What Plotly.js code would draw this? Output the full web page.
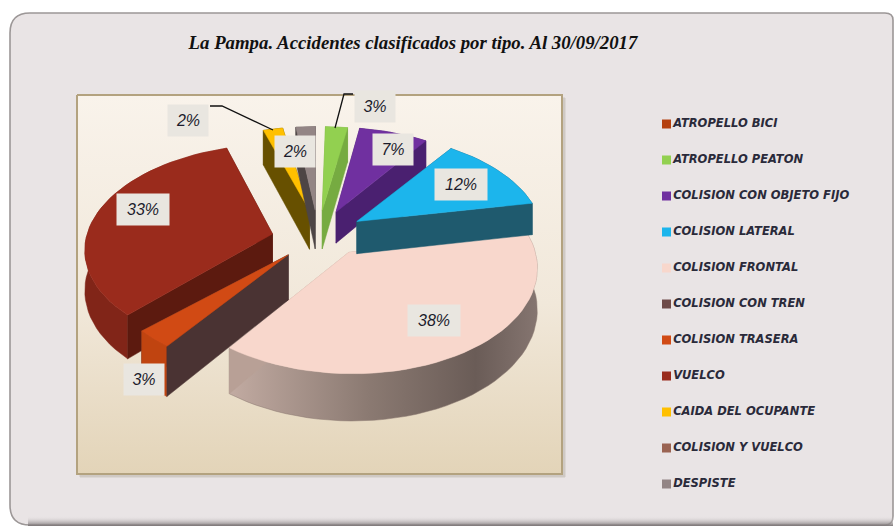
<!DOCTYPE html>
<html>
<head>
<meta charset="utf-8">
<script src="https://cdn.plot.ly/plotly-3.0.1.min.js"></script>
<style>html,body{margin:0;padding:0;background:#fff}#c{width:895px;height:528px}</style>
</head>
<body>
<div id="c"></div>
<script>
// ---- data ----
const chartTitle = 'La Pampa. Accidentes clasificados por tipo. Al 30/09/2017';
const categories = ['ATROPELLO BICI','ATROPELLO PEATON','COLISION CON OBJETO FIJO','COLISION LATERAL','COLISION FRONTAL','COLISION CON TREN','COLISION TRASERA','VUELCO','CAIDA DEL OCUPANTE','COLISION Y VUELCO','DESPISTE'];
const percents = [0,3,7,12,38,0,3,33,2,0,2];

// ---- styles ----
const topColors  = ['#B5400F','#92D050','#7030A0','#1CB5EC','#F8D7CC','#6E4A48','#D14A14','#9A2B1C','#FFC000','#9A6352','#938585'];
const wallColors = ['#5C2008','#76AB41','#4A2070','#1F5A6E','#B8A096','#4A3333','#4A3333','#5C1A0F','#675000','#5c3a30','#4D4545'];
const rimColors  = ['#8a300b','#76AB41','#4A2070','#1F5A6E','#8A7870','#4A3333','#C04410','#812518','#675000','#5c3a30','#6d6262'];
const drawOrder = [8,10,1,2,7,4,3,6];
const pull = 0.25, CX = 318, CY = 235, R = 187, S = 103, P = 0.13, DEPTH = 40;
// per-slice view adjustments: shift, rotation, angular span, radius, depth
const sliceView = {
  1:{span:0.75, radius:0.97},
  2:{rot:-1.5, radius:0.98, depth:0.8},
  3:{depth:0.82},
  4:{dx:5, dy:-5, radius:0.97},
  6:{radius:0.94, depth:1.1, dx:2},
  7:{dx:-1, dy:6, rot:-3.5},
  8:{rot:-3, radius:0.97},
  10:{radius:0.97}
};

function project(X, Y, dz, v) {
  const w = 1 + P * Y;
  return [CX + (v.dx || 0) + R * X / w, CY + (v.dy || 0) - S * Y / w + dz / w];
}
const total = percents.reduce((a, b) => a + b, 0);
const traces = [];

// panel bottom shadow
traces.push({x:[28,893,893,28,28], y:[516,516,526,526,516], mode:'lines', fill:'toself', line:{width:0}, hoverinfo:'skip',
  fillgradient:{type:'vertical', colorscale:[[0,'rgba(120,114,115,0.95)'],[1,'rgba(233,228,229,0)']]}});

// plot background
traces.push({x:[80,565,565,80,80], y:[98,98,477,477,98], mode:'lines', fill:'toself', fillcolor:'#CFC9C4', line:{color:'#CFC9C4', width:1}, hoverinfo:'skip'});
traces.push({x:[77,562,562,77,77], y:[95,95,474,474,95], mode:'lines', fill:'toself',
  line:{color:'#B3A27F', width:2}, hoverinfo:'skip',
  fillgradient:{type:'vertical', colorscale:[[0,'#E3D4B8'],[0.45,'#F1E8DA'],[1,'#F9F3EB']]}});

// slices
const starts = []; let acc = 0;
percents.forEach(v => { starts.push(acc); acc += v / total * 360; });
const rad = d => d * Math.PI / 180;
function poly(pts, color, extra) {
  const t = {x:pts.map(p => p[0]), y:pts.map(p => p[1]), mode:'lines', fill:'toself', hoverinfo:'skip',
    fillcolor:color, line:{color:color, width:0.5}};
  return Object.assign(t, extra || {});
}
drawOrder.forEach(i => {
  const v = sliceView[i] || {};
  const sweep = percents[i] / total * 360;
  const mid = starts[i] + sweep / 2;
  const half = sweep * (v.span || 1) / 2, rot = v.rot || 0;
  const a0 = mid - half + rot, a1 = mid + half + rot;
  const radius = v.radius || 1, depth = DEPTH * (v.depth || 1);
  const ox = pull * Math.sin(rad(mid)), oy = pull * Math.cos(rad(mid));
  const pt = (r, a, z) => project(ox + r * radius * Math.sin(rad(a)), oy + r * radius * Math.cos(rad(a)), z, v);
  const steps = Math.max(2, Math.ceil((a1 - a0) / 3));
  const arcT = [], arcB = [];
  for (let k = 0; k <= steps; k++) {
    const a = a0 + (a1 - a0) * k / steps;
    arcT.push(pt(1, a, 0)); arcB.push(pt(1, a, depth));
  }
  const apexT = pt(0, 0, 0), apexB = pt(0, 0, depth);
  const wallA = [apexT, arcT[0], arcB[0], apexB, apexT];
  const wallB = [apexT, arcT[steps], arcB[steps], apexB, apexT];
  const rim = arcT.concat(arcB.slice().reverse()); rim.push(arcT[0]);
  const my = p => p.reduce((s, q) => s + q[1], 0) / p.length;
  const walls = my(wallA) < my(wallB) ? [wallA, wallB] : [wallB, wallA];
  traces.push(poly(walls[0], wallColors[i]));
  const rimExtra = i === 4 ? {fillgradient:{type:'horizontal', colorscale:[[0,'#C2ABA2'],[0.45,'#8B7A72'],[0.8,'#6A5C57'],[1,'#857570']]}} : null;
  traces.push(poly(rim, rimColors[i], rimExtra));
  traces.push(poly(walls[1], wallColors[i]));
  traces.push(poly(arcT.concat([apexT, arcT[0]]), topColors[i]));
});

// leader lines
traces.push({x:[210,222,273], y:[106,106,130], mode:'lines', line:{color:'#111', width:1.3}, hoverinfo:'skip'});
traces.push({x:[335,344,353], y:[128,94,94], mode:'lines', line:{color:'#111', width:1.3}, hoverinfo:'skip'});

// legend
const legendY = categories.map((c, i) => 124 + i * 36);
traces.push({x:categories.map(() => 666.5), y:legendY, mode:'markers+text', text:categories, textposition:'middle right',
  cliponaxis:false, hoverinfo:'skip', marker:{symbol:'square', size:9, color:topColors},
  textfont:{family:'"DejaVu Sans", sans-serif', size:11.5, color:'#2a2a3a', style:'italic', weight:700}});

// data labels
const labelPos = {1:[375,106],2:[393,149],3:[461,184],4:[434,320],6:[144,379],7:[143,209],8:[188,120],10:[295,151]};
const annotations = Object.keys(labelPos).map(k => ({
  x:labelPos[k][0], y:labelPos[k][1], xref:'x', yref:'y', showarrow:false,
  text:percents[k] + '%', bgcolor:'#E9E6E0', width:k==7||k==3||k==4?50:38, height:29,
  font:{family:'"Liberation Sans", sans-serif', size:16, style:'italic', color:'#1c1c2c'}
}));

const outerPanel = 'M 30 13 L 885 13 Q 893 13 893 20 L 893 516 Q 893 525 885 525 L 30 525 Q 10 525 10 505 L 10 33 Q 10 13 30 13 Z';
const layout = {
  width:895, height:528, margin:{l:0,r:0,t:0,b:0}, showlegend:false,
  paper_bgcolor:'#ffffff', plot_bgcolor:'rgba(0,0,0,0)',
  title:{text:chartTitle, x:413/895, xanchor:'center', y:1-42/528, yanchor:'middle',
    font:{family:'"Liberation Serif", serif', size:18.8, style:'italic', weight:700, color:'#111'}},
  xaxis:{range:[0,895], visible:false, fixedrange:true},
  yaxis:{range:[528,0], visible:false, fixedrange:true},
  shapes:[{type:'path', path:outerPanel, layer:'below', fillcolor:'#E9E4E5', line:{color:'#9C9797', width:1.6}}],
  annotations:annotations
};
Plotly.newPlot('c', traces, layout, {displayModeBar:false, staticPlot:true});
</script>
</body>
</html>
